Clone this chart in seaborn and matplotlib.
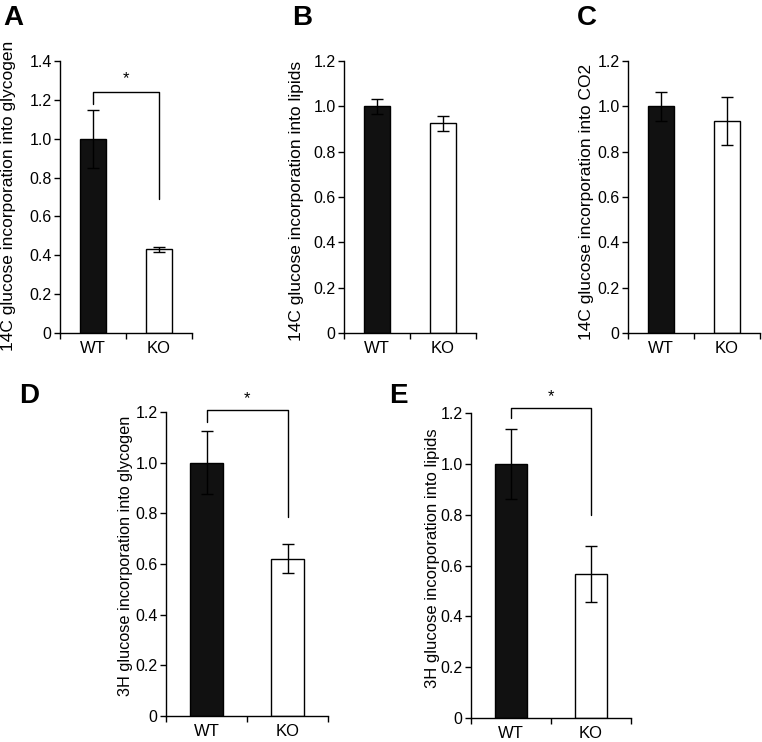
import matplotlib
matplotlib.use("Agg")
import matplotlib.pyplot as plt
import seaborn as sns
import pandas as pd

sns.set_theme(style="white")
plt.rcParams['font.family'] = ['Liberation Sans', 'DejaVu Sans']

categories = ["WT", "KO"]

# panel values (mean) and error (half-range)
a_vals = [1.0, 0.43]
a_err = [0.15, 0.012]
b_vals = [1.0, 0.925]
b_err = [0.032, 0.033]
c_vals = [1.0, 0.935]
c_err = [0.065, 0.105]
d_vals = [1.0, 0.62]
d_err = [0.125, 0.057]
e_vals = [1.0, 0.565]
e_err = [0.137, 0.11]

ylabels = [
    "14C glucose incorporation into glycogen",
    "14C glucose incorporation into lipids",
    "14C glucose incorporation into CO2",
    "3H glucose incorporation into glycogen",
    "3H glucose incorporation into lipids",
]
yticks_14 = [0, 0.2, 0.4, 0.6, 0.8, 1.0, 1.2, 1.4]
yticks_12 = [0, 0.2, 0.4, 0.6, 0.8, 1.0, 1.2]
panel_letters = ["A", "B", "C", "D", "E"]

# significance brackets: (bracket y, left leg bottom, right leg bottom, star y)
brackets = {
    0: (1.24, 1.18, 0.69, 1.27),
    3: (1.208, 1.16, 0.785, 1.225),
    4: (1.22, 1.18, 0.80, 1.235),
}

W, H = 762, 742
fig = plt.figure(figsize=(W / 100, H / 100), dpi=100)

# axes boxes in pixels: left, right, top, bottom
boxes = [
    (60, 192, 61, 333),
    (344, 476, 61, 333),
    (628, 760, 61, 333),
    (166, 328, 412, 716),
    (471, 631, 413, 718),
]
label_x_px = [9, 297, 587, 126, 432]
label_y_px = [196, 201, 202, 556, 558]
label_sizes = [12.5, 12.5, 12.5, 11.7, 12]
letter_pos = [(3, 5), (292, 5), (577, 5), (19, 383), (389, 383)]

panels = [
    (a_vals, a_err, yticks_14),
    (b_vals, b_err, yticks_12),
    (c_vals, c_err, yticks_12),
    (d_vals, d_err, yticks_12),
    (e_vals, e_err, yticks_12),
]

for i, ((vals, errs, yt), box) in enumerate(zip(panels, boxes)):
    l, r, t, b = box
    ax = fig.add_axes([l / W, 1 - b / H, (r - l) / W, (b - t) / H])
    df = pd.DataFrame({"group": categories, "value": vals})
    sns.barplot(data=df, x="group", y="value", hue="group",
                palette=["#111111", "white"], edgecolor="black",
                linewidth=1.0, width=0.4, errorbar=None, legend=False,
                ax=ax)
    ax.errorbar([0, 1], vals, yerr=errs, fmt="none", ecolor="black",
                elinewidth=1.0, capsize=4, capthick=1.0)
    ax.set_xlim(-0.5, 1.5)
    ax.set_ylim(0, yt[-1])
    ax.set_yticks(yt)
    ax.set_yticklabels(["0" if v == 0 else f"{v:.1f}" for v in yt])
    ax.set_xticks([-0.5, 0.5, 1.5])
    ax.set_xticklabels(["", "", ""])
    ax.set_xticks([0, 1], minor=True)
    ax.set_xticklabels(categories, minor=True)
    ax.tick_params(axis="x", which="major", direction="out", length=4,
                   width=1, color="black", bottom=True)
    ax.tick_params(axis="x", which="minor", length=0, pad=6,
                   labelsize=12, labelcolor="black")
    ax.tick_params(axis="y", direction="out", length=4, width=1,
                   color="black", left=True, pad=2, labelsize=11.5,
                   labelcolor="black")
    for s in ["top", "right"]:
        ax.spines[s].set_visible(False)
    for s in ["left", "bottom"]:
        ax.spines[s].set_color("black")
        ax.spines[s].set_linewidth(1.0)
    ax.set_xlabel("")
    ax.set_ylabel(ylabels[i], fontsize=label_sizes[i], color="black")
    ax.yaxis.set_label_coords((label_x_px[i] - l) / (r - l),
                              (b - label_y_px[i]) / (b - t))
    ax.yaxis.label.set_verticalalignment("center")
    if i in brackets:
        by, lb, rb, sy = brackets[i]
        ax.plot([0, 0, 1, 1], [lb, by, by, rb], color="black", lw=1.0,
                clip_on=False)
        ax.text(0.5, sy, "*", ha="center", va="bottom", fontsize=12,
                color="black", clip_on=False)
    lx, ly = letter_pos[i]
    fig.text(lx / W, 1 - ly / H, panel_letters[i], fontsize=20,
             fontweight="bold", ha="left", va="top", color="black")

fig.savefig("out.png", dpi=100)
